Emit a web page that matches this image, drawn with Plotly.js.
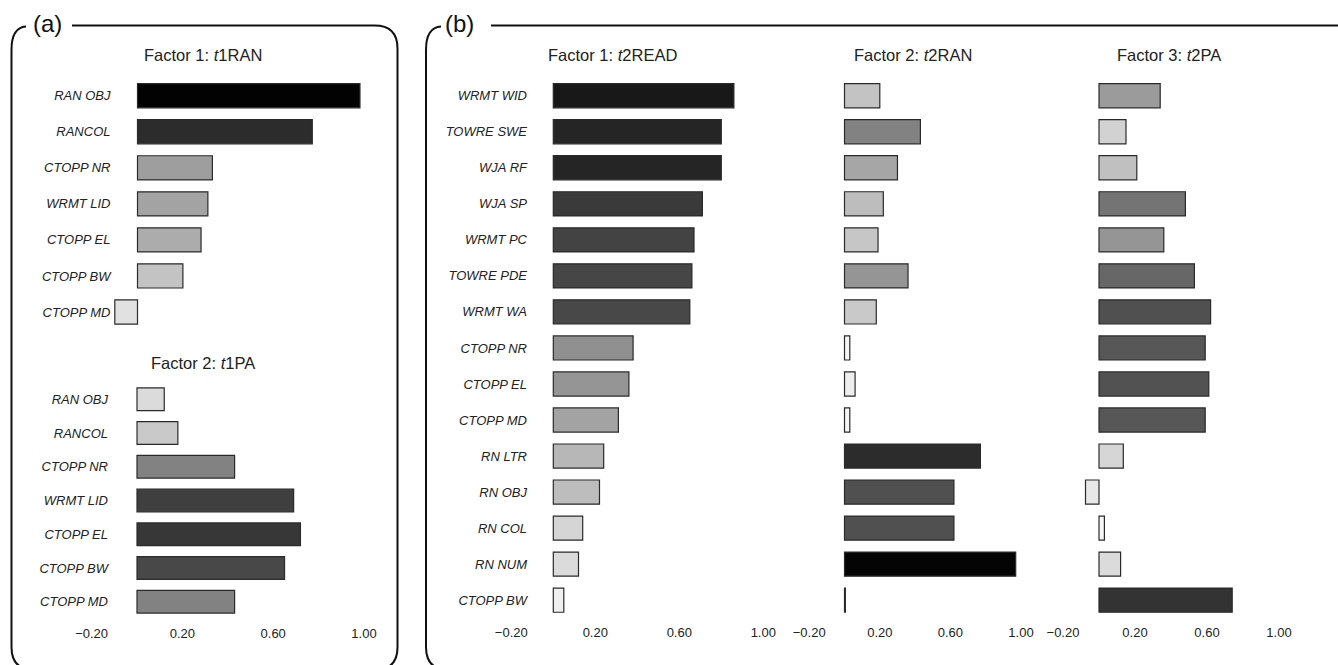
<!DOCTYPE html>
<html><head><meta charset="utf-8">
<script src="https://cdn.plot.ly/plotly-3.0.1.min.js"></script>
<style>html,body{margin:0;padding:0;background:#fff}#chart{width:1338px;height:665px}</style>
</head><body><div id="chart"></div>
<script>
// ---------- data ----------
const panelALabel = '(a)';
const panelBLabel = '(b)';
const aCategories = ['RAN OBJ','RANCOL','CTOPP NR','WRMT LID','CTOPP EL','CTOPP BW','CTOPP MD'];
const aFactor1 = [0.98, 0.77, 0.33, 0.31, 0.28, 0.20, -0.10];
const aFactor2 = [0.12, 0.18, 0.43, 0.69, 0.72, 0.65, 0.43];
const aTitle1 = 'Factor 1: <i>t</i>1RAN';
const aTitle2 = 'Factor 2: <i>t</i>1PA';

const bCategories = ['WRMT WID','TOWRE SWE','WJA RF','WJA SP','WRMT PC','TOWRE PDE','WRMT WA',
  'CTOPP NR','CTOPP EL','CTOPP MD','RN LTR','RN OBJ','RN COL','RN NUM','CTOPP BW'];
const bFactor1 = [0.86,0.80,0.80,0.71,0.67,0.66,0.65,0.38,0.36,0.31,0.24,0.22,0.14,0.12,0.05];
const bFactor2 = [0.20,0.43,0.30,0.22,0.19,0.36,0.18,0.03,0.06,0.03,0.77,0.62,0.62,0.97,0.005];
const bFactor3 = [0.34,0.15,0.21,0.48,0.36,0.53,0.62,0.59,0.61,0.59,0.135,-0.075,0.03,0.12,0.74];
const bTitle1 = 'Factor 1: <i>t</i>2READ';
const bTitle2 = 'Factor 2: <i>t</i>2RAN';
const bTitle3 = 'Factor 3: <i>t</i>2PA';

const tickValues = [-0.2, 0.2, 0.6, 1.0];
const tickLabels = ['\u22120.20','0.20','0.60','1.00'];

// ---------- helpers ----------
const W = 1338, H = 665;
const FONT = '"Liberation Sans", Arial, Helvetica, sans-serif';
const px = x => x / W;
const py = y => 1 - y / H;
const P = (x, y) => px(x).toFixed(5) + ',' + py(y).toFixed(5);

function gray(v) {
  const g = Math.round(255 * Math.pow(Math.max(0, 1 - Math.abs(v)), 1.2));
  return 'rgb(' + g + ',' + g + ',' + g + ')';
}
function barTrace(cats, vals, xa, ya) {
  return {
    type: 'bar', orientation: 'h', y: cats, x: vals, xaxis: xa, yaxis: ya,
    width: 0.67,
    marker: { color: vals.map(gray), line: { color: '#2a2a2a', width: 1.2 } },
    showlegend: false, hoverinfo: 'x+y'
  };
}
function xAxis(x0, x1, range, anchor, labels) {
  return {
    domain: [px(x0), px(x1)], range: range, anchor: anchor,
    showgrid: false, zeroline: false, showline: false, ticks: '',
    showticklabels: labels, tickvals: tickValues, ticktext: tickLabels,
    ticklabelstandoff: 5,
    tickfont: { family: FONT, size: 13, color: '#222' },
    fixedrange: true
  };
}
function yAxis(y0, y1, cats, anchor, position, labels) {
  const ax = {
    domain: [py(y1), py(y0)], type: 'category', categoryorder: 'array', categoryarray: cats,
    range: [cats.length - 0.5, -0.5],
    showgrid: false, zeroline: false, showline: false, ticks: '',
    showticklabels: labels,
    tickfont: { family: FONT, size: 13, color: '#222', style: 'italic' },
    fixedrange: true
  };
  if (anchor === 'free') { ax.anchor = 'free'; ax.position = px(position); }
  else ax.anchor = anchor;
  return ax;
}
function title(text, x, y) {
  return { text: text, x: px(x), y: py(y), xref: 'paper', yref: 'paper',
    xanchor: 'center', yanchor: 'middle', showarrow: false,
    font: { family: FONT, size: 16.5, color: '#222' } };
}

// ---------- traces ----------
const data = [
  barTrace(aCategories, aFactor1, 'x', 'y'),
  barTrace(aCategories, aFactor2, 'x2', 'y2'),
  barTrace(bCategories, bFactor1, 'x3', 'y3'),
  barTrace(bCategories, bFactor2, 'x4', 'y4'),
  barTrace(bCategories, bFactor3, 'x5', 'y5')
];

// x ranges chosen so that zero/scale match the reference
const rA = [-0.3, 1.1];
const layout = {
  width: W, height: H, margin: { l: 0, r: 0, t: 0, b: 0 },
  paper_bgcolor: '#fff', plot_bgcolor: 'rgba(0,0,0,0)',
  bargap: 0.33, showlegend: false,
  font: { family: FONT, color: '#222' },
  xaxis:  xAxis(137.5 - 0.3 * 227, 137.5 + 1.1 * 227, rA, 'y', false),
  yaxis:  yAxis(77.7, 330, aCategories, 'free', 110.5, true),
  xaxis2: xAxis(137 - 0.3 * 227, 137 + 1.1 * 227, rA, 'y2', true),
  yaxis2: yAxis(382.4, 618.6, aCategories, 'free', 108, true),
  xaxis3: xAxis(553.3 - 0.25 * 210, 553.3 + 1.05 * 210, [-0.25, 1.05], 'y3', true),
  yaxis3: yAxis(77.7, 618.2, bCategories, 'free', 527, true),
  xaxis4: xAxis(844.5 - 0.25 * 176.5, 844.5 + 1.05 * 176.5, [-0.25, 1.05], 'y4', true),
  yaxis4: yAxis(77.7, 618.2, bCategories, 'x4', null, false),
  xaxis5: xAxis(1099 - 0.25 * 180, 1099 + 1.05 * 180, [-0.25, 1.05], 'y5', true),
  yaxis5: yAxis(77.7, 618.2, bCategories, 'x5', null, false),
  annotations: [
    title(aTitle1, 203.3, 55.5),
    title(aTitle2, 203.3, 362.5),
    title(bTitle1, 612.2, 55.5),
    title(bTitle2, 912.8, 55.5),
    title(bTitle3, 1168.7, 55.5),
    { text: panelALabel, x: px(47.5), y: py(24), xref: 'paper', yref: 'paper', xanchor: 'center', yanchor: 'middle',
      showarrow: false, font: { family: FONT, size: 24, color: '#111' } },
    { text: panelBLabel, x: px(460), y: py(24), xref: 'paper', yref: 'paper', xanchor: 'center', yanchor: 'middle',
      showarrow: false, font: { family: FONT, size: 24, color: '#111' } }
  ],
  shapes: [
    { type: 'path', xref: 'paper', yref: 'paper', layer: 'above',
      line: { color: '#111', width: 2 },
      path: 'M' + P(72, 25.5) + ' L' + P(374.5, 25.5) + ' Q' + P(397.5, 25.5) + ' ' + P(397.5, 48.5) +
            ' L' + P(397.5, 647) + ' Q' + P(397.5, 670) + ' ' + P(374.5, 670) +
            ' L' + P(34.5, 670) + ' Q' + P(11.5, 670) + ' ' + P(11.5, 647) +
            ' L' + P(11.5, 50) + ' Q' + P(11.5, 27.5) + ' ' + P(26, 26.5) },
    { type: 'path', xref: 'paper', yref: 'paper', layer: 'above',
      line: { color: '#111', width: 2 },
      path: 'M' + P(491, 25.5) + ' L' + P(1345, 25.5) +
            ' M' + P(441, 26.5) + ' Q' + P(426, 27.5) + ' ' + P(426, 50) +
            ' L' + P(426, 647) + ' Q' + P(426, 670) + ' ' + P(449, 670) + ' L' + P(1345, 670) }
  ]
};

Plotly.newPlot('chart', data, layout, { displayModeBar: false, staticPlot: true });
</script>
</body></html>
